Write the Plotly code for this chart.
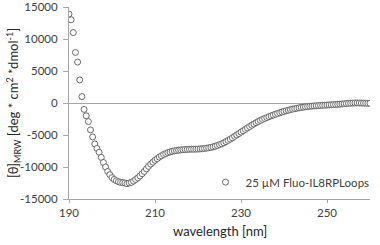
import plotly.graph_objects as go

wavelength = [
    190, 190.5, 191, 191.5, 192, 192.5, 193, 193.5, 194, 194.5,
    195, 195.5, 196, 196.5, 197, 197.5, 198, 198.5, 199, 199.5,
    200, 200.5, 201, 201.5, 202, 202.5, 203, 203.5, 204, 204.5,
    205, 205.5, 206, 206.5, 207, 207.5, 208, 208.5, 209, 209.5,
    210, 210.5, 211, 211.5, 212, 212.5, 213, 213.5, 214, 214.5,
    215, 215.5, 216, 216.5, 217, 217.5, 218, 218.5, 219, 219.5,
    220, 220.5, 221, 221.5, 222, 222.5, 223, 223.5, 224, 224.5,
    225, 225.5, 226, 226.5, 227, 227.5, 228, 228.5, 229, 229.5,
    230, 230.5, 231, 231.5, 232, 232.5, 233, 233.5, 234, 234.5,
    235, 235.5, 236, 236.5, 237, 237.5, 238, 238.5, 239, 239.5,
    240, 240.5, 241, 241.5, 242, 242.5, 243, 243.5, 244, 244.5,
    245, 245.5, 246, 246.5, 247, 247.5, 248, 248.5, 249, 249.5,
    250, 250.5, 251, 251.5, 252, 252.5, 253, 253.5, 254, 254.5,
    255, 255.5, 256, 256.5, 257, 257.5, 258, 258.5, 259, 259.5,
    260,
]

theta_mrw = [
    13900, 13000, 11000, 7900, 6400, 3600, 1000, -1000, -2000, -2900,
    -4200, -5300, -6400, -7100, -7700, -8500, -9300, -10000, -10700, -11200,
    -11650, -11950, -12150, -12300, -12400, -12450, -12500, -12600, -12500, -12400,
    -12200, -11950, -11700, -11400, -11050, -10700, -10300, -9900, -9550, -9250,
    -8950, -8700, -8450, -8250, -8050, -7900, -7750, -7650, -7550, -7480,
    -7420, -7370, -7330, -7300, -7270, -7250, -7230, -7220, -7220, -7210,
    -7200, -7180, -7150, -7100, -7050, -7000, -6930, -6850, -6760, -6650,
    -6520, -6380, -6220, -6040, -5850, -5650, -5440, -5220, -5000, -4780,
    -4560, -4340, -4120, -3900, -3680, -3470, -3270, -3080, -2900, -2730,
    -2570, -2420, -2280, -2140, -2010, -1880, -1760, -1640, -1530, -1420,
    -1320, -1220, -1130, -1040, -960, -890, -820, -760, -700, -650,
    -600, -560, -520, -490, -460, -430, -400, -380, -360, -340,
    -320, -300, -280, -260, -240, -210, -180, -150, -120, -90,
    -60, -30, -10, 0, 10, 0, -10, -20, -30, -40,
    -50,
]

series_name = "25 µM Fluo-IL8RPLoops"
x_ticks = [190, 210, 230, 250]
y_ticks = [-15000, -10000, -5000, 0, 5000, 10000, 15000]

FONT = "Lato, 'Open Sans', sans-serif"
AXIS_GREY = "#a6a6a6"
TEXT_GREY = "#404040"

fig = go.Figure()
fig.add_trace(go.Scatter(
    x=wavelength, y=theta_mrw, mode="markers", name=series_name,
    marker=dict(symbol="circle", size=6, color="white",
                line=dict(color="#595959", width=0.9)),
))

fig.update_layout(
    template="none",
    width=380, height=245,
    margin=dict(l=69, r=5, t=7, b=46, pad=0),
    paper_bgcolor="white", plot_bgcolor="white",
    font=dict(family=FONT, color=TEXT_GREY, size=11),
    showlegend=True,
    legend=dict(x=1.015, y=0.088, xanchor="right", yanchor="middle",
                bgcolor="rgba(0,0,0,0)", font=dict(size=11.5, color=TEXT_GREY),
                itemwidth=30, borderwidth=0),
    xaxis=dict(range=[190, 260], tickvals=x_ticks, ticktext=[str(v) for v in x_ticks],
               showgrid=False, zeroline=False, showline=True, linecolor=AXIS_GREY,
               linewidth=1, ticks="outside", ticklen=3, tickcolor=AXIS_GREY,
               tickfont=dict(size=11.5, color=TEXT_GREY), automargin=False,
               ticklabeloverflow="allow"),
    yaxis=dict(range=[-15000, 15000], tickvals=y_ticks, ticktext=[str(v) for v in y_ticks],
               showgrid=False, zeroline=True, zerolinecolor=AXIS_GREY, zerolinewidth=1,
               showline=True, linecolor=AXIS_GREY, linewidth=1,
               ticks="outside", ticklen=5, tickcolor=AXIS_GREY,
               tickfont=dict(size=11.5, color=TEXT_GREY), ticklabelstandoff=3,
               automargin=False, ticklabeloverflow="allow"),
    annotations=[
        dict(text="wavelength [nm]", xref="paper", yref="paper",
             x=0.5, y=-0.115, xanchor="center", yanchor="top", showarrow=False,
             font=dict(size=13, color="#262626")),
        dict(text="[θ]<sub>MRW</sub> [deg * cm<sup>2</sup> *dmol<sup>-1</sup>]",
             xref="paper", yref="paper", x=-0.186, y=0.50, xanchor="center",
             yanchor="middle", textangle=-90, showarrow=False,
             font=dict(size=13, color="#262626")),
    ],
)

fig.write_html(
    "out.html",
    config={"displayModeBar": False},
    post_script="document.body.style.margin='0';document.body.style.overflow='hidden';",
)
